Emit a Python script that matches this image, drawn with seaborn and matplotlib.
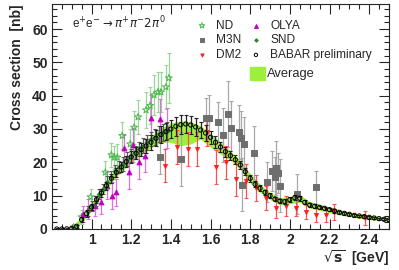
import matplotlib
matplotlib.use("Agg")
import matplotlib.pyplot as plt
import seaborn as sns
import pandas as pd
from matplotlib.ticker import MultipleLocator

# BABAR preliminary (sqrt(s) in GeV, cross section in nb)
babar_E = [0.825, 0.850, 0.875, 0.900, 0.925, 0.950, 0.975, 1.000, 1.025, 1.050,
           1.075, 1.100, 1.125, 1.150, 1.175, 1.200, 1.225, 1.250, 1.275, 1.300,
           1.325, 1.350, 1.375, 1.400, 1.425, 1.450, 1.475, 1.500, 1.525, 1.550,
           1.575, 1.600, 1.625, 1.650, 1.675, 1.700, 1.725, 1.750, 1.775, 1.800,
           1.825, 1.850, 1.875, 1.900, 1.925, 1.950, 1.975, 2.000, 2.025, 2.050,
           2.075, 2.100, 2.125, 2.150, 2.175, 2.200, 2.225, 2.250, 2.275, 2.300,
           2.325, 2.350, 2.375, 2.400, 2.425, 2.450, 2.475, 2.500]
babar_sig = [0.0, 0.0, 0.05, 0.2, 0.8, 2.8, 4.6, 6.6, 8.8, 10.8,
             13.0, 15.2, 17.0, 18.6, 20.2, 21.6, 22.7, 23.8, 24.9, 26.0,
             27.2, 28.3, 29.2, 30.0, 30.8, 31.3, 31.5, 31.2, 30.6, 29.7,
             28.8, 27.5, 26.0, 24.6, 23.2, 22.0, 20.8, 19.2, 17.2, 15.2,
             13.4, 12.2, 11.0, 10.0, 9.0, 8.4, 8.2, 8.8, 9.4, 9.2,
             8.0, 7.2, 6.8, 6.5, 6.2, 5.8, 5.4, 5.0, 4.7, 4.4,
             4.1, 3.9, 3.7, 3.5, 3.3, 3.1, 2.9, 2.7]
babar_err = [0.2, 0.2, 0.2, 0.3, 0.5, 0.8, 1.0, 1.0, 1.0, 1.2,
             1.2, 1.3, 1.4, 1.5, 1.6, 1.7, 1.8, 1.9, 2.0, 2.2,
             2.4, 2.5, 2.6, 2.7, 2.8, 2.8, 2.8, 2.8, 2.7, 2.5,
             2.3, 2.0, 1.8, 1.6, 1.5, 1.4, 1.3, 1.2, 1.1, 1.0,
             0.9, 0.9, 0.8, 0.8, 0.7, 0.7, 0.7, 0.7, 0.7, 0.7,
             0.6, 0.6, 0.6, 0.5, 0.5, 0.5, 0.5, 0.5, 0.4, 0.4,
             0.4, 0.4, 0.4, 0.4, 0.3, 0.3, 0.3, 0.3]

# Average band
avg_E = [0.90, 0.95, 1.00, 1.05, 1.10, 1.15, 1.20, 1.25, 1.30, 1.35, 1.40,
         1.45, 1.50, 1.55, 1.60, 1.65, 1.70, 1.75, 1.80, 1.85, 1.90, 1.95,
         2.00, 2.05, 2.10, 2.15, 2.20, 2.25, 2.30, 2.35, 2.40, 2.45, 2.50]
avg_lo = [0.0, 1.8, 5.6, 9.6, 13.8, 17.2, 20.0, 22.2, 24.4, 26.0, 26.0,
          25.0, 25.5, 27.0, 24.5, 22.5, 20.6, 17.8, 13.8, 11.0, 8.8, 7.2,
          7.6, 8.0, 6.2, 5.6, 4.9, 4.2, 3.7, 3.2, 2.9, 2.6, 2.3]
avg_hi = [0.6, 3.8, 7.6, 12.0, 16.4, 20.0, 23.0, 25.4, 27.8, 30.2, 31.8,
          32.4, 32.2, 31.0, 28.6, 26.2, 23.4, 20.6, 16.6, 13.4, 11.0, 9.4,
          9.8, 10.2, 8.2, 7.4, 6.6, 5.8, 5.1, 4.6, 4.2, 3.8, 3.4]

nd_E = [0.91, 0.95, 0.995, 1.07, 1.10, 1.115, 1.13, 1.155, 1.195, 1.215,
        1.235, 1.275, 1.295, 1.315, 1.335, 1.35, 1.375, 1.39]
nd_sig = [0.5, 3.6, 9.6, 17.0, 22.2, 21.5, 21.5, 28.0, 25.5, 30.5,
          33.6, 35.7, 37.0, 40.2, 41.1, 41.1, 42.6, 45.3]
nd_err = [1.0, 2.0, 2.5, 3.5, 3.5, 3.5, 4.0, 4.0, 4.5, 5.0,
          5.0, 5.5, 5.5, 6.0, 6.0, 6.0, 6.5, 7.5]

m3n_E = [1.345, 1.45, 1.575, 1.59, 1.64, 1.665, 1.69, 1.705, 1.745, 1.755,
         1.76, 1.77, 1.82, 1.885, 1.91, 1.925, 1.93, 1.94, 1.95, 2.035, 2.13]
m3n_sig = [21.6, 21.0, 33.3, 33.3, 32.2, 28.2, 34.5, 30.3, 29.1, 27.3,
           13.3, 25.5, 22.8, 14.1, 17.4, 15.6, 18.3, 16.8, 13.0, 10.5, 12.5]
m3n_err = [5.0, 8.0, 6.0, 7.0, 6.0, 8.0, 10.0, 8.0, 8.0, 8.0,
           8.0, 8.0, 8.0, 6.0, 6.0, 6.0, 8.0, 6.0, 8.0, 6.0, 5.0]

dm2_E = [1.37, 1.43, 1.485, 1.53, 1.58, 1.63, 1.68, 1.73, 1.78, 1.83,
         1.88, 1.93, 1.98, 2.03, 2.08, 2.13, 2.18, 2.225, 2.38]
dm2_sig = [19.0, 24.6, 24.0, 24.0, 29.0, 18.6, 20.0, 15.0, 14.4, 12.3,
           9.3, 6.3, 7.0, 6.3, 5.1, 4.2, 4.2, 5.1, 3.3]
dm2_err = [5.0, 5.0, 5.0, 5.0, 4.0, 5.0, 5.0, 5.0, 5.0, 4.0,
           3.5, 3.0, 3.0, 2.5, 2.0, 2.0, 2.0, 2.5, 2.0]

olya_E = [0.955, 0.98, 1.015, 1.05, 1.08, 1.105, 1.125, 1.165, 1.19, 1.21,
          1.24, 1.27, 1.30, 1.345, 1.38]
olya_sig = [4.5, 6.0, 7.0, 8.0, 13.0, 10.0, 11.0, 24.3, 17.0, 25.2,
            20.0, 22.0, 33.3, 33.0, 30.3]
olya_err = [2.5, 3.0, 3.0, 3.5, 4.0, 4.0, 4.0, 4.0, 5.0, 5.0,
            5.0, 5.0, 7.0, 6.0, 6.0]

snd_E = [0.98, 1.00, 1.02, 1.04, 1.06, 1.08, 1.10, 1.12, 1.14, 1.16, 1.18,
         1.20, 1.22, 1.24, 1.26, 1.28, 1.30, 1.32, 1.34, 1.36, 1.38]
snd_sig = [5.5, 7.0, 8.5, 10.5, 12.0, 14.0, 15.5, 17.5, 18.5, 19.5, 21.0,
           22.0, 23.0, 24.0, 25.0, 26.0, 27.0, 27.5, 28.5, 29.0, 29.5]
snd_err = [1.5, 1.5, 1.5, 1.5, 1.5, 1.8, 1.8, 1.8, 1.8, 2.0, 2.0,
           2.0, 2.0, 2.0, 2.2, 2.2, 2.2, 2.4, 2.4, 2.5, 2.5]

sns.set_style("ticks")
plt.rcParams['font.family'] = ['Liberation Sans', 'DejaVu Sans']

fig, ax = plt.subplots(figsize=(3.99, 2.70), dpi=100)
fig.subplots_adjust(left=0.130, right=0.975, bottom=0.152, top=0.985)

avg_col = '#9cf03c'
ax.fill_between(avg_E, avg_lo, avg_hi, color=avg_col, lw=0, zorder=1)

def draw_set(E, sig, err, marker, mcol, ecol, ms, label, fill=True, z=3):
    ax.errorbar(E, sig, yerr=err, fmt='none', ecolor=ecol, elinewidth=0.9,
                capsize=1.2, capthick=0.8, zorder=z)
    df = pd.DataFrame({'E': E, 'sig': sig})
    sns.scatterplot(data=df, x='E', y='sig', marker=marker, s=ms,
                    color=mcol if fill else 'none', edgecolor=mcol,
                    linewidth=0.7, ax=ax, zorder=z + 0.5, label=label)

draw_set(nd_E, nd_sig, nd_err, '*', '#4cb84c', '#9ad69a', 28, 'ND', fill=False)
draw_set(m3n_E, m3n_sig, m3n_err, 's', '#6e6e6e', '#a8a8a8', 14, 'M3N')
draw_set(dm2_E, dm2_sig, dm2_err, 'v', '#ff2020', '#ff5050', 8, 'DM2')
draw_set(olya_E, olya_sig, olya_err, '^', '#c000c0', '#e070e0', 12, 'OLYA')
draw_set(snd_E, snd_sig, snd_err, 'D', '#2a8a2a', '#5a5a5a', 5, 'SND', z=4)
draw_set(babar_E, babar_sig, babar_err, 'o', '#000000', '#222222', 9,
         'BABAR preliminary', fill=False, z=5)

ax.set_xlim(0.8, 2.5)
ax.set_ylim(0, 67.5)
ax.xaxis.set_major_locator(MultipleLocator(0.2))
ax.xaxis.set_minor_locator(MultipleLocator(0.05))
ax.yaxis.set_major_locator(MultipleLocator(10))
ax.yaxis.set_minor_locator(MultipleLocator(2))
ax.set_xticks([1.0, 1.2, 1.4, 1.6, 1.8, 2.0, 2.2, 2.4])
ax.set_xticklabels(['1', '1.2', '1.4', '1.6', '1.8', '2', '2.2', '2.4'])
ax.tick_params(which='both', direction='in', top=True, right=True, width=0.8)
ax.tick_params(which='major', length=7, labelsize=10, pad=3)
ax.tick_params(which='minor', length=3.5)
for lab in ax.get_xticklabels() + ax.get_yticklabels():
    lab.set_fontweight('bold')
for sp in ax.spines.values():
    sp.set_linewidth(0.8)

ax.set_xlabel(r'$\mathbf{\sqrt{s}}$  [GeV]', fontsize=10, fontweight='bold',
              loc='right', labelpad=1)
ax.set_ylabel('Cross section  [nb]', fontsize=10, fontweight='bold',
              loc='top', labelpad=6)

ax.text(0.060, 0.915, r'e$^{+}$e$^{-}$$\rightarrow$$\pi^{+}\pi^{-}2\pi^{0}$',
        transform=ax.transAxes, fontsize=8.5, va='center')

handles, labels = ax.get_legend_handles_labels()
leg = ax.legend(handles, labels, loc='upper left', bbox_to_anchor=(0.378, 0.978),
                ncol=2, frameon=False, fontsize=8.6, handletextpad=0.2,
                columnspacing=0.2, labelspacing=0.22, markerscale=0.8)
ax.add_patch(plt.Rectangle((1.80, 44.7), 0.075, 3.9, color=avg_col,
                           clip_on=False, zorder=6))
ax.text(1.885, 46.6, 'Average', fontsize=9.3, va='center')

fig.savefig('out.png', dpi=100)
